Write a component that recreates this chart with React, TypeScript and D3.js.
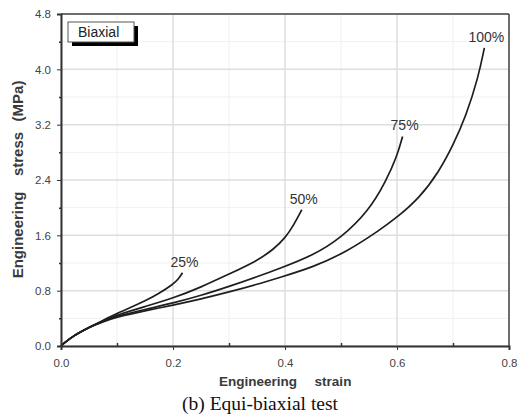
import { useEffect, useRef } from 'react'
import * as d3 from 'd3'

type Pt = [number, number]

const seriesNames = ['25%', '50%', '75%', '100%']
const s25: Pt[] = [[0,0],[0.005,0.04],[0.01,0.07],[0.02,0.13],[0.03,0.18],[0.05,0.27],[0.075,0.37],[0.1,0.47],[0.125,0.56],[0.15,0.65],[0.175,0.76],[0.2,0.89],[0.21,0.97],[0.217,1.06]]
const s50: Pt[] = [[0,0],[0.005,0.04],[0.01,0.07],[0.02,0.13],[0.03,0.18],[0.05,0.27],[0.075,0.36],[0.1,0.45],[0.15,0.57],[0.2,0.69],[0.25,0.85],[0.3,1.04],[0.35,1.23],[0.38,1.40],[0.4,1.56],[0.415,1.74],[0.43,1.97]]
const s75: Pt[] = [[0,0],[0.005,0.04],[0.01,0.07],[0.02,0.13],[0.03,0.18],[0.05,0.27],[0.075,0.36],[0.1,0.43],[0.15,0.53],[0.2,0.62],[0.25,0.73],[0.3,0.86],[0.35,1.0],[0.39,1.12],[0.45,1.31],[0.5,1.56],[0.55,1.96],[0.58,2.38],[0.6,2.74],[0.61,3.03]]
const s100: Pt[] = [[0,0],[0.005,0.04],[0.01,0.07],[0.02,0.13],[0.03,0.18],[0.05,0.27],[0.075,0.35],[0.1,0.42],[0.15,0.51],[0.2,0.59],[0.25,0.68],[0.3,0.78],[0.35,0.89],[0.39,0.99],[0.45,1.14],[0.51,1.36],[0.57,1.68],[0.6,1.86],[0.64,2.14],[0.675,2.52],[0.7,2.9],[0.723,3.32],[0.745,3.88],[0.756,4.31]]
const allSeries = [s25, s50, s75, s100]

const xTicks = [0, 0.2, 0.4, 0.6, 0.8]
const xMinor = [0.1, 0.3, 0.5, 0.7]
const yTicks = [0, 0.8, 1.6, 2.4, 3.2, 4.0, 4.8]
const yMinor = [0.4, 1.2, 2.0, 2.8, 3.6, 4.4]

export default function App() {
  const ref = useRef<SVGSVGElement>(null)
  useEffect(() => {
    const W = 518, H = 418
    const svg = d3.select(ref.current).attr('viewBox', `0 0 ${W} ${H}`)
    svg.selectAll('*').remove()
    const left = 61, right = 509, top = 14, bottom = 346
    const x = d3.scaleLinear().domain([0, 0.8]).range([left, right])
    const y = d3.scaleLinear().domain([0, 4.8]).range([bottom, top])
    const font = 'Liberation Sans, Arial, sans-serif'

    const grid = svg.append('g')
    grid.selectAll('.vm').data(xMinor).join('line')
      .attr('x1', d => x(d)).attr('x2', d => x(d)).attr('y1', top).attr('y2', bottom)
      .attr('stroke', '#f0f0f0').attr('stroke-width', 1)
    grid.selectAll('.hm').data(yMinor).join('line')
      .attr('y1', d => y(d)).attr('y2', d => y(d)).attr('x1', left).attr('x2', right)
      .attr('stroke', '#f0f0f0').attr('stroke-width', 1)
    grid.selectAll('.vM').data(xTicks).join('line')
      .attr('x1', d => x(d)).attr('x2', d => x(d)).attr('y1', top).attr('y2', bottom)
      .attr('stroke', '#dedede').attr('stroke-width', 1.5)
    grid.selectAll('.hM').data(yTicks).join('line')
      .attr('y1', d => y(d)).attr('y2', d => y(d)).attr('x1', left).attr('x2', right)
      .attr('stroke', '#dedede').attr('stroke-width', 1.5)

    // frame
    svg.append('line').attr('x1', left).attr('x2', right).attr('y1', top).attr('y2', top)
      .attr('stroke', '#444').attr('stroke-width', 1.5)
    svg.append('line').attr('x1', right).attr('x2', right).attr('y1', top).attr('y2', bottom)
      .attr('stroke', '#444').attr('stroke-width', 1.5)

    // curves
    const line = d3.line<Pt>().x(d => x(d[0])).y(d => y(d[1])).curve(d3.curveBasis)
    svg.append('g').selectAll('path').data(allSeries).join('path')
      .attr('d', d => line(d)).attr('fill', 'none').attr('stroke', '#1e1e1e').attr('stroke-width', 1.7)

    // curve labels
    svg.append('g').selectAll('text').data(allSeries).join('text')
      .attr('x', d => x(d[d.length - 1][0]) + 2)
      .attr('y', d => y(d[d.length - 1][1]) - 6)
      .attr('text-anchor', 'middle').attr('font-family', font).attr('font-size', 14)
      .attr('fill', '#333').text((d, i) => seriesNames[i])

    // axes
    const ax = svg.append('g').attr('transform', `translate(0,${bottom})`)
      .call(d3.axisBottom(x).tickValues(xTicks).tickFormat(d3.format('.1f')).tickSize(4).tickPadding(9))
    ax.select('.domain').attr('stroke', '#333').attr('stroke-width', 2)
    ax.selectAll('text').attr('font-family', font).attr('font-size', 11.5).attr('fill', '#444')
    ax.selectAll('line').attr('stroke', '#333')
    svg.append('g').attr('transform', `translate(0,${bottom})`)
      .call(d3.axisTop(x).tickValues(xMinor).tickFormat(() => '').tickSize(3))
      .call(g => g.select('.domain').remove())
      .selectAll('line').attr('stroke', '#333').attr('stroke-width', 1.5)

    const ay = svg.append('g').attr('transform', `translate(${left},0)`)
      .call(d3.axisLeft(y).tickValues(yTicks).tickFormat(d3.format('.1f')).tickSize(4).tickPadding(6))
    ay.select('.domain').attr('stroke', '#333').attr('stroke-width', 2)
    ay.selectAll('text').attr('font-family', font).attr('font-size', 11.5).attr('fill', '#444')
    ay.selectAll('line').attr('stroke', '#333')
    svg.append('g').attr('transform', `translate(${left},0)`)
      .call(d3.axisLeft(y).tickValues(yMinor).tickFormat(() => '').tickSize(2))
      .call(g => g.select('.domain').remove())
      .selectAll('line').attr('stroke', '#333').attr('stroke-width', 1.5)

    // axis titles (words placed apart, as in the source figure)
    const xt = svg.append('g').attr('font-family', font).attr('font-size', 13.5)
      .attr('font-weight', 'bold').attr('fill', '#3a3a3a').attr('text-anchor', 'middle')
    xt.append('text').attr('x', 258).attr('y', 386).text('Engineering')
    xt.append('text').attr('x', 333).attr('y', 386).text('strain')
    const yt = svg.append('g').attr('font-family', font).attr('font-size', 15)
      .attr('font-weight', 'bold').attr('fill', '#3a3a3a').attr('text-anchor', 'middle')
    yt.append('text').attr('transform', 'translate(23,235) rotate(-90)').text('Engineering')
    yt.append('text').attr('transform', 'translate(23,154) rotate(-90)').text('stress')
    yt.append('text').attr('transform', 'translate(23,101) rotate(-90)').text('(MPa)')

    // legend box
    const lg = svg.append('g')
    lg.append('rect').attr('x', 72).attr('y', 26).attr('width', 66).attr('height', 20).attr('fill', '#000')
    lg.append('rect').attr('x', 68).attr('y', 22).attr('width', 66).attr('height', 20)
      .attr('fill', '#fff').attr('stroke', '#555').attr('stroke-width', 1)
    lg.append('text').attr('x', 78).attr('y', 37).attr('font-family', font).attr('font-size', 14)
      .attr('fill', '#222').text('Biaxial')

    // caption
    svg.append('text').attr('x', 260).attr('y', 410).attr('text-anchor', 'middle')
      .attr('font-family', 'Liberation Serif, Times New Roman, serif').attr('font-size', 19.5)
      .attr('fill', '#111').text('(b) Equi-biaxial test')
  }, [])
  return (
    <div style={{ position: 'absolute', left: 0, top: 0, background: '#fff' }}>
      <svg ref={ref} width={518} height={418} style={{ display: 'block' }} />
    </div>
  )
}
